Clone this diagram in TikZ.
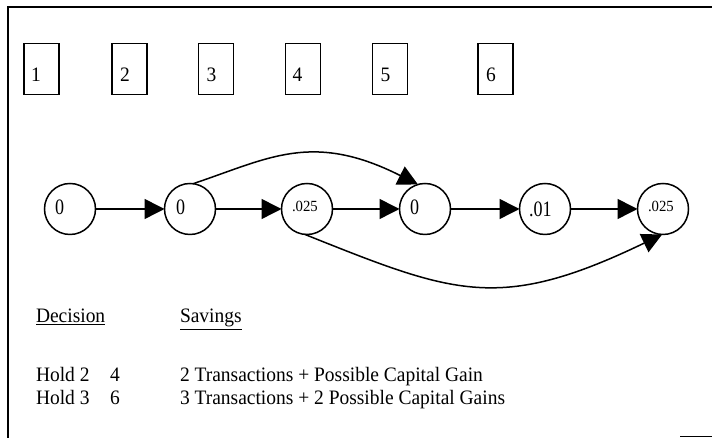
\documentclass[tikz,border=0pt]{standalone}
\usepackage{fontspec}
\setmainfont{Liberation Serif}
\newfontfamily\condfont[FakeStretch=0.95]{Liberation Serif}
\newfontfamily\narrowfont[FakeStretch=0.82]{Liberation Serif}
\usetikzlibrary{arrows.meta}
\begin{document}
\begin{tikzpicture}[x=1pt,y=1pt,
  every node/.style={inner sep=0pt, outer sep=0pt},
  frame/.style={line width=1.8pt},
  stagebox/.style={draw, line width=1.8pt, minimum width=35pt, minimum height=51pt},
  state/.style={draw, circle, line width=1.5pt, minimum size=51pt},
  lbl/.style={anchor=base west, font=\condfont\fontsize{20.5}{22}\selectfont},
  biglbl/.style={anchor=base west, font=\narrowfont\fontsize{22}{24}\selectfont},
  smalllbl/.style={anchor=base west, font=\condfont\fontsize{15.5}{18}\selectfont},
  arr/.style={-{Triangle[length=20pt,width=20pt]}, line width=1.5pt},
  txt/.style={anchor=base west, font=\condfont\fontsize{20.5}{23}\selectfont}]
\useasboundingbox (0,0) rectangle (712,438);
% frame
\coordinate (fbl) at (8,0);
\coordinate (ftl) at (8,431);
\coordinate (ftr) at (712,431);
\coordinate (fbra) at (680,1.5);
\coordinate (fbrb) at (712,1.5);
\draw[frame] (fbl) -- (ftl) -- (ftr);
\draw[frame] (fbra) -- (fbrb);
% stage boxes
\node[stagebox] (b1) at (41.5,369) {};
\node[stagebox] (b2) at (129.5,369) {};
\node[stagebox] (b3) at (216,369) {};
\node[stagebox] (b4) at (303,369) {};
\node[stagebox] (b5) at (390,369) {};
\node[stagebox] (b6) at (495.5,369) {};
\node[lbl] (n1) at (31,356) {1};
\node[lbl] (n2) at (120,356) {2};
\node[lbl] (n3) at (206.5,356) {3};
\node[lbl] (n4) at (292.5,356) {4};
\node[lbl] (n5) at (380.5,356) {5};
\node[lbl] (n6) at (486,356) {6};
% states
\node[state] (c1) at (70,229) {};
\node[state] (c2) at (190,229) {};
\node[state] (c3) at (307,229) {};
\node[state] (c4) at (425,229) {};
\node[state] (c5) at (545,229) {};
\node[state] (c6) at (663,229) {};
\node[biglbl] (v1) at (55,223) {0};
\node[biglbl] (v2) at (176,223) {0};
\node[smalllbl] (v3) at (292,226) {.025};
\node[biglbl] (v4) at (410,223) {0};
\node[biglbl] (v5) at (529,221) {.01};
\node[smalllbl] (v6) at (648,226) {.025};
% arrows
\draw[arr] (c1) -- (c2);
\draw[arr] (c2) -- (c3);
\draw[arr] (c3) -- (c4);
\draw[arr] (c4) -- (c5);
\draw[arr] (c5) -- (c6);
\draw[arr] (c2.83) .. controls (268.5,279.5) and (312,307) .. (c4.106);
\draw[arr] (c3.265) .. controls (454,144) and (499,125) .. (c6.268);
% table
\node[txt] (hd1) at (36,115) {\underline{Decision}};
\node[txt] (hd2) at (180,115) {\underline{Savings}};
\node[txt] (d1) at (36,56) {Hold 2};
\node[txt] (d1b) at (110,56) {4};
\node[txt] (d2) at (36,33) {Hold 3};
\node[txt] (d2b) at (110,33) {6};
\node[txt] (s1) at (180,56) {2 Transactions + Possible Capital Gain};
\node[txt] (s2) at (180,33) {3 Transactions + 2 Possible Capital Gains};
\end{tikzpicture}
\end{document}
